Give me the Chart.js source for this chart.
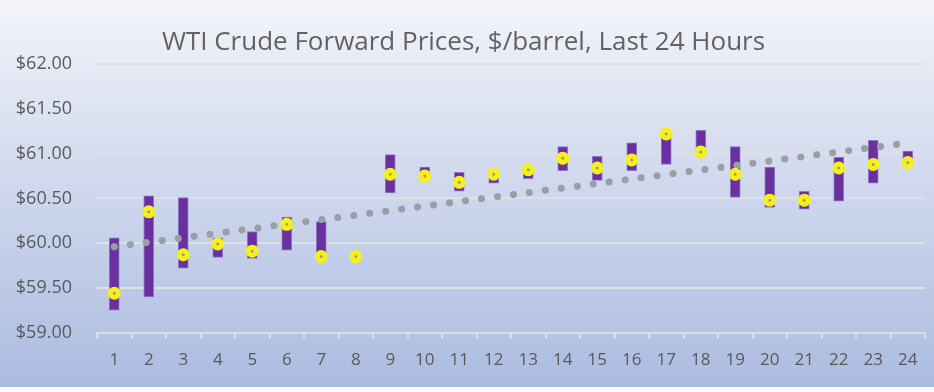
<!DOCTYPE html>
<html>
<head>
<meta charset="utf-8">
<script src="https://cdn.jsdelivr.net/npm/chart.js@4"></script>
<style>
html,body{margin:0;padding:0;background:#fff}
#wrap{width:934px;height:392px}
</style>
</head>
<body>
<div id="wrap"><canvas id="c" width="934" height="392"></canvas></div>
<script>

// hours 1..24
let hours = ["1","2","3","4","5","6","7","8","9","10","11","12","13","14","15","16","17","18","19","20","21","22","23","24"]

// low / high of each purple bar
let lows  = [59.25,59.40,59.72,59.84,59.83,59.92,59.84,59.83,60.56,60.71,60.58,60.67,60.72,60.81,60.70,60.81,60.88,60.98,60.51,60.40,60.38,60.47,60.67,60.86]
let highs = [60.06,60.53,60.51,60.06,60.13,60.29,60.24,59.86,60.99,60.85,60.79,60.78,60.83,61.08,60.97,61.12,61.23,61.26,61.08,60.85,60.58,60.96,61.15,61.03]

// last price (yellow markers)
let last = [59.44,60.35,59.87,59.99,59.91,60.21,59.85,59.85,60.77,60.75,60.68,60.77,60.82,60.95,60.84,60.93,61.22,61.02,60.77,60.48,60.48,60.84,60.88,60.90]

// trend line ends
let trendStart = 59.96
let trendEnd = 61.12

let yTicks = [59,59.5,60,60.5,61,61.5,62]

let bars = hours.map((h,i)=>[lows[i],highs[i]])
let trend = hours.map((h,i)=> i==0 ? trendStart : (i==hours.length-1 ? trendEnd : null))

const bgPlugin = {
id:"bg",
beforeDraw(chart){
let ctx = chart.ctx
let g = ctx.createLinearGradient(0,0,0,387)
g.addColorStop(0,"#f4f5fa")
g.addColorStop(0.4,"#d5dcef")
g.addColorStop(1,"#abbce0")
ctx.save()
ctx.fillStyle = g
ctx.fillRect(0,0,chart.width,387)
ctx.restore()
}
}

new Chart(document.getElementById("c"),{
data:{
labels:hours,
datasets:[
{
type:"line",
label:"Trend",
data:trend,
spanGaps:true,
borderColor:"#9c9ea6",
borderWidth:7,
borderDash:[0.1,16],
borderCapStyle:"round",
pointRadius:0,
order:2
},
{
type:"bar",
label:"Range",
data:bars,
backgroundColor:"#6b2fa0",
borderColor:"#8a7cc4",
borderWidth:1,
borderSkipped:false,
barThickness:10,
order:3
},
{
type:"line",
label:"Last",
data:last,
showLine:false,
pointRadius:4,
pointBorderWidth:5,
pointBackgroundColor:"#9a9a8a",
pointBorderColor:"#f6f01a",
order:1
}
]
},
options:{
animation:false,
responsive:false,
layout:{padding:{left:0,right:7,top:0,bottom:11}},
plugins:{
legend:{display:false},
tooltip:{enabled:false},
title:{
display:true,
text:"WTI Crude Forward Prices, $/barrel, Last 24 Hours",
color:"#626262",
font:{family:"Open Sans",size:26,weight:"normal"},
padding:{top:27,bottom:6}
}
},
scales:{
x:{
offset:true,
grid:{display:true,drawOnChartArea:false,drawTicks:true,tickLength:6,color:"#dcdde0",lineWidth:2},
border:{color:"#dcdde0",width:2},
ticks:{color:"#595959",font:{family:"Open Sans",size:17},padding:11}
},
y:{
min:59,max:62,
afterBuildTicks(ax){ax.ticks = yTicks.map(v=>({value:v}))},
afterFit(ax){ax.width = 97},
grid:{color:"#dfe0e4",lineWidth:2,drawTicks:false},
border:{display:false},
ticks:{
color:"#595959",
font:{family:"Open Sans",size:18},
padding:25,
callback:v=>"$"+v.toFixed(2)
}
}
}
},
plugins:[bgPlugin]
})

</script>
</body>
</html>
